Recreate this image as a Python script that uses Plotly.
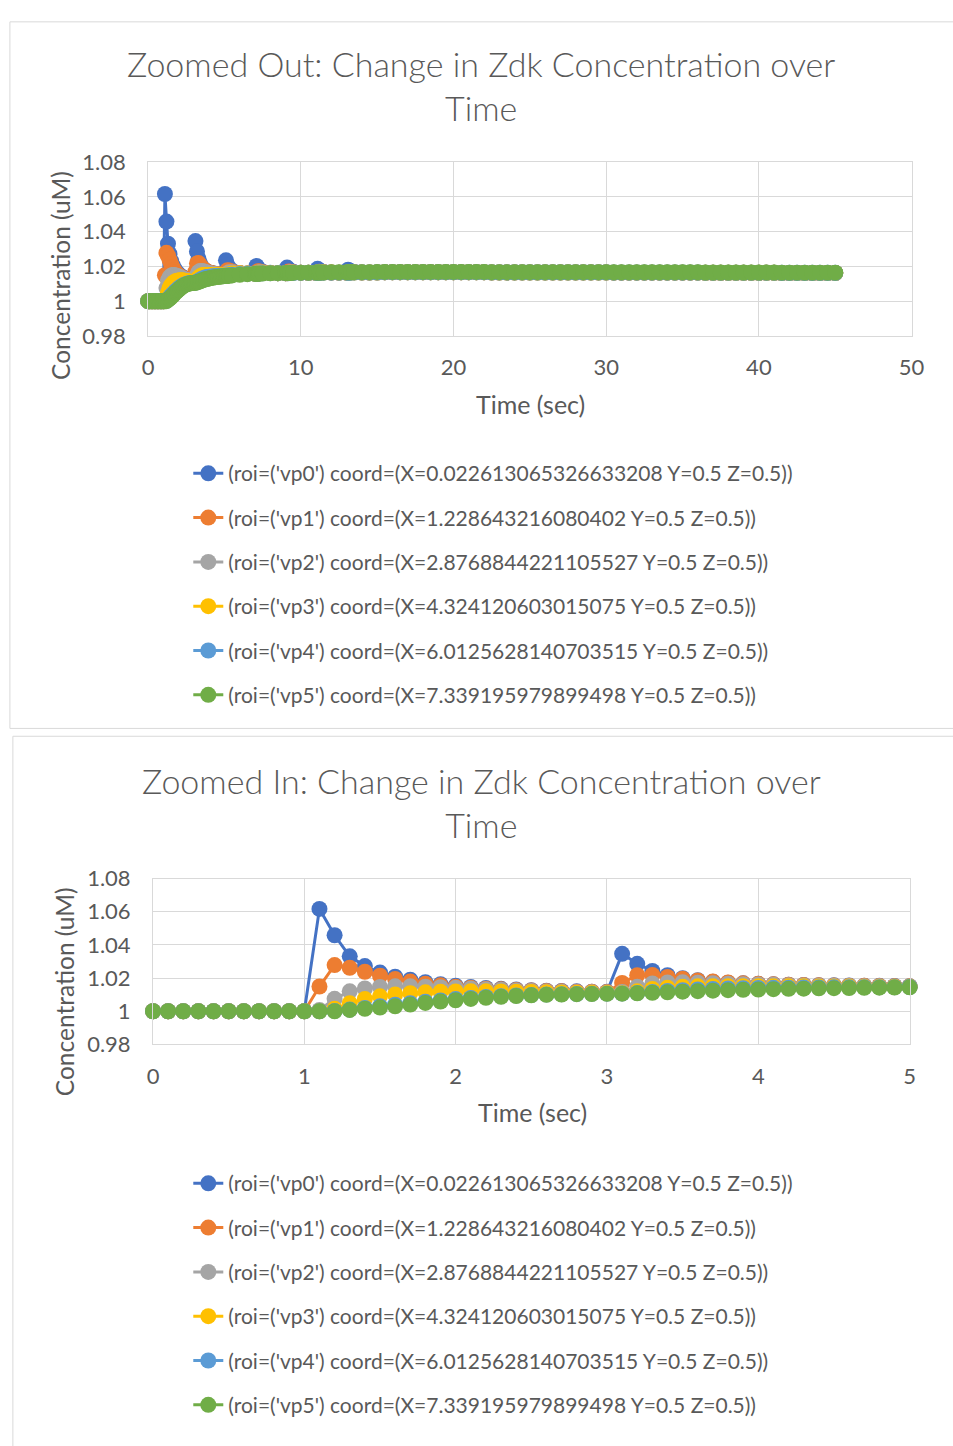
import plotly.graph_objects as go

# ---------------- data ----------------
series_names = [
    "(roi=('vp0') coord=(X=0.022613065326633208 Y=0.5 Z=0.5))",
    "(roi=('vp1') coord=(X=1.228643216080402 Y=0.5 Z=0.5))",
    "(roi=('vp2') coord=(X=2.8768844221105527 Y=0.5 Z=0.5))",
    "(roi=('vp3') coord=(X=4.324120603015075 Y=0.5 Z=0.5))",
    "(roi=('vp4') coord=(X=6.0125628140703515 Y=0.5 Z=0.5))",
    "(roi=('vp5') coord=(X=7.339195979899498 Y=0.5 Z=0.5))",
]
series_colors = ["#4472C4", "#ED7D31", "#A5A5A5", "#FFC000", "#5B9BD5", "#70AD47"]

# time 0 .. 5 s, every 0.1 s
t_fine = [0.0, 0.1, 0.2, 0.3, 0.4, 0.5, 0.6, 0.7, 0.8, 0.9,
          1.0, 1.1, 1.2, 1.3, 1.4, 1.5, 1.6, 1.7, 1.8, 1.9,
          2.0, 2.1, 2.2, 2.3, 2.4, 2.5, 2.6, 2.7, 2.8, 2.9,
          3.0, 3.1, 3.2, 3.3, 3.4, 3.5, 3.6, 3.7, 3.8, 3.9,
          4.0, 4.1, 4.2, 4.3, 4.4, 4.5, 4.6, 4.7, 4.8, 4.9, 5.0]

vp0_fine = [1.0, 1.0, 1.0, 1.0, 1.0, 1.0, 1.0, 1.0, 1.0, 1.0,
            1.0, 1.0617, 1.0458, 1.0331, 1.0272, 1.0233, 1.0208, 1.0190, 1.0175, 1.0163,
            1.0154, 1.0146, 1.0140, 1.0135, 1.0131, 1.0127, 1.0124, 1.0122, 1.0120, 1.0118,
            1.0117, 1.0346, 1.0286, 1.0243, 1.0217, 1.0199, 1.0187, 1.0178, 1.0172, 1.0168,
            1.0165, 1.0162, 1.0160, 1.0158, 1.0157, 1.0156, 1.0155, 1.0154, 1.0153, 1.0152, 1.0151]
vp1_fine = [1.0, 1.0, 1.0, 1.0, 1.0, 1.0, 1.0, 1.0, 1.0, 1.0,
            1.0, 1.0149, 1.0278, 1.0262, 1.0238, 1.0214, 1.0195, 1.0179, 1.0166, 1.0156,
            1.0148, 1.0142, 1.0136, 1.0132, 1.0128, 1.0125, 1.0122, 1.0120, 1.0118, 1.0117,
            1.0116, 1.0170, 1.0217, 1.0219, 1.0207, 1.0196, 1.0186, 1.0179, 1.0173, 1.0168,
            1.0165, 1.0162, 1.0160, 1.0158, 1.0156, 1.0155, 1.0154, 1.0153, 1.0152, 1.0151, 1.0150]
vp2_fine = [1.0, 1.0, 1.0, 1.0, 1.0, 1.0, 1.0, 1.0, 1.0, 1.0,
            1.0, 1.0008, 1.0075, 1.0120, 1.0137, 1.0146, 1.0150, 1.0150, 1.0148, 1.0145,
            1.0141, 1.0137, 1.0133, 1.0129, 1.0125, 1.0122, 1.0119, 1.0117, 1.0115, 1.0114,
            1.0113, 1.0116, 1.0148, 1.0167, 1.0173, 1.0174, 1.0172, 1.0169, 1.0166, 1.0163,
            1.0161, 1.0159, 1.0157, 1.0155, 1.0154, 1.0153, 1.0152, 1.0151, 1.0150, 1.0149, 1.0149]
vp3_fine = [1.0, 1.0, 1.0, 1.0, 1.0, 1.0, 1.0, 1.0, 1.0, 1.0,
            1.0, 1.0, 1.0015, 1.0048, 1.0074, 1.0090, 1.0101, 1.0109, 1.0114, 1.0117,
            1.0119, 1.0120, 1.0120, 1.0119, 1.0118, 1.0116, 1.0114, 1.0113, 1.0112, 1.0111,
            1.0110, 1.0110, 1.0120, 1.0134, 1.0142, 1.0147, 1.0150, 1.0151, 1.0151, 1.0151,
            1.0151, 1.0150, 1.0150, 1.0150, 1.0149, 1.0149, 1.0149, 1.0148, 1.0148, 1.0148, 1.0147]
vp4_fine = [1.0, 1.0, 1.0, 1.0, 1.0, 1.0, 1.0, 1.0, 1.0, 1.0,
            1.0, 1.0, 1.0002, 1.0010, 1.0020, 1.0030, 1.0039, 1.0048, 1.0057, 1.0065,
            1.0073, 1.0080, 1.0086, 1.0091, 1.0095, 1.0098, 1.0101, 1.0103, 1.0104, 1.0105,
            1.0106, 1.0107, 1.0110, 1.0116, 1.0122, 1.0127, 1.0131, 1.0134, 1.0137, 1.0139,
            1.0140, 1.0141, 1.0142, 1.0143, 1.0143, 1.0144, 1.0144, 1.0145, 1.0145, 1.0145, 1.0146]
vp5_fine = [1.0, 1.0, 1.0, 1.0, 1.0, 1.0, 1.0, 1.0, 1.0, 1.0,
            1.0, 1.0, 1.0, 1.0008, 1.0015, 1.0022, 1.0030, 1.0040, 1.0050, 1.0058,
            1.0066, 1.0074, 1.0081, 1.0087, 1.0092, 1.0096, 1.0099, 1.0101, 1.0103, 1.0104,
            1.0105, 1.0106, 1.0108, 1.0111, 1.0114, 1.0118, 1.0121, 1.0124, 1.0127, 1.0129,
            1.0131, 1.0133, 1.0135, 1.0136, 1.0138, 1.0139, 1.0140, 1.0141, 1.0142, 1.0143, 1.0144]

# time 5.1 .. 14.5 s (sampled around the pulses)
t_mid = [5.1, 5.2, 5.3, 5.5, 6.0, 6.5, 7.0, 7.1, 7.2, 7.3,
         7.5, 8.0, 8.5, 9.0, 9.1, 9.2, 9.3, 9.5, 10.0, 10.5,
         11.0, 11.1, 11.2, 11.3, 11.5, 12.0, 12.5, 13.0, 13.1, 13.2,
         13.3, 13.5, 14.0, 14.5]

vp0_mid = [1.0235, 1.0205, 1.0190, 1.0175, 1.0162, 1.0159, 1.0158, 1.0203, 1.0188, 1.0178,
           1.0169, 1.0163, 1.0161, 1.0161, 1.0193, 1.0182, 1.0175, 1.0169, 1.0164, 1.0163,
           1.0163, 1.0186, 1.0178, 1.0172, 1.0168, 1.0165, 1.0164, 1.0164, 1.0181, 1.0175,
           1.0171, 1.0168, 1.0166, 1.0165]
vp1_mid = [1.0160, 1.0178, 1.0177, 1.0170, 1.0162, 1.0159, 1.0158, 1.0163, 1.0172, 1.0171,
           1.0167, 1.0162, 1.0161, 1.0161, 1.0164, 1.0170, 1.0169, 1.0166, 1.0164, 1.0163,
           1.0163, 1.0165, 1.0169, 1.0168, 1.0166, 1.0165, 1.0164, 1.0164, 1.0165, 1.0168,
           1.0168, 1.0166, 1.0165, 1.0165]
vp2_mid = [1.0150, 1.0160, 1.0166, 1.0166, 1.0161, 1.0159, 1.0158, 1.0158, 1.0163, 1.0166,
           1.0165, 1.0162, 1.0161, 1.0161, 1.0161, 1.0164, 1.0166, 1.0165, 1.0164, 1.0163,
           1.0163, 1.0163, 1.0165, 1.0166, 1.0166, 1.0165, 1.0164, 1.0164, 1.0164, 1.0166,
           1.0166, 1.0166, 1.0165, 1.0165]
vp3_mid = [1.0147, 1.0150, 1.0155, 1.0159, 1.0160, 1.0159, 1.0158, 1.0158, 1.0159, 1.0161,
           1.0163, 1.0162, 1.0161, 1.0161, 1.0161, 1.0162, 1.0163, 1.0164, 1.0164, 1.0163,
           1.0163, 1.0163, 1.0164, 1.0164, 1.0165, 1.0165, 1.0164, 1.0164, 1.0164, 1.0165,
           1.0165, 1.0165, 1.0165, 1.0165]
vp4_mid = [1.0146, 1.0147, 1.0149, 1.0152, 1.0156, 1.0157, 1.0158, 1.0158, 1.0158, 1.0159,
           1.0160, 1.0161, 1.0161, 1.0161, 1.0161, 1.0161, 1.0162, 1.0162, 1.0163, 1.0163,
           1.0163, 1.0163, 1.0163, 1.0164, 1.0164, 1.0164, 1.0164, 1.0164, 1.0164, 1.0164,
           1.0165, 1.0165, 1.0165, 1.0165]
vp5_mid = [1.0144, 1.0145, 1.0146, 1.0148, 1.0152, 1.0155, 1.0157, 1.0157, 1.0157, 1.0158,
           1.0159, 1.0160, 1.0161, 1.0162, 1.0162, 1.0162, 1.0162, 1.0163, 1.0164, 1.0164,
           1.0165, 1.0165, 1.0165, 1.0165, 1.0165, 1.0166, 1.0166, 1.0166, 1.0166, 1.0166,
           1.0166, 1.0167, 1.0167, 1.0167]

# time 15 .. 45 s, every 0.5 s (plateau)
t_late = [15.0, 15.5, 16.0, 16.5, 17.0, 17.5, 18.0, 18.5, 19.0, 19.5,
          20.0, 20.5, 21.0, 21.5, 22.0, 22.5, 23.0, 23.5, 24.0, 24.5,
          25.0, 25.5, 26.0, 26.5, 27.0, 27.5, 28.0, 28.5, 29.0, 29.5,
          30.0, 30.5, 31.0, 31.5, 32.0, 32.5, 33.0, 33.5, 34.0, 34.5,
          35.0, 35.5, 36.0, 36.5, 37.0, 37.5, 38.0, 38.5, 39.0, 39.5,
          40.0, 40.5, 41.0, 41.5, 42.0, 42.5, 43.0, 43.5, 44.0, 44.5, 45.0]

vp0_late = [1.0166, 1.0166, 1.0167, 1.0167, 1.0167, 1.0167, 1.0167, 1.0167, 1.0167, 1.0167,
            1.0167, 1.0167, 1.0167, 1.0167, 1.0167, 1.0166, 1.0166, 1.0166, 1.0166, 1.0166,
            1.0166, 1.0166, 1.0166, 1.0166, 1.0166, 1.0166, 1.0166, 1.0166, 1.0166, 1.0166,
            1.0166, 1.0165, 1.0165, 1.0165, 1.0165, 1.0165, 1.0165, 1.0165, 1.0165, 1.0165,
            1.0165, 1.0165, 1.0165, 1.0164, 1.0164, 1.0164, 1.0164, 1.0164, 1.0164, 1.0164,
            1.0164, 1.0164, 1.0164, 1.0163, 1.0163, 1.0163, 1.0163, 1.0163, 1.0163, 1.0163, 1.0163]
vp1_late = [1.0165, 1.0166, 1.0166, 1.0166, 1.0166, 1.0166, 1.0166, 1.0166, 1.0166, 1.0166,
            1.0166, 1.0166, 1.0166, 1.0166, 1.0166, 1.0165, 1.0165, 1.0165, 1.0165, 1.0165,
            1.0165, 1.0165, 1.0165, 1.0165, 1.0165, 1.0165, 1.0165, 1.0165, 1.0165, 1.0165,
            1.0165, 1.0164, 1.0164, 1.0164, 1.0164, 1.0164, 1.0164, 1.0164, 1.0164, 1.0164,
            1.0164, 1.0164, 1.0164, 1.0163, 1.0163, 1.0163, 1.0163, 1.0163, 1.0163, 1.0163,
            1.0163, 1.0163, 1.0163, 1.0162, 1.0162, 1.0162, 1.0162, 1.0162, 1.0162, 1.0162, 1.0162]
vp2_late = [1.0165, 1.0166, 1.0166, 1.0166, 1.0166, 1.0166, 1.0166, 1.0166, 1.0166, 1.0166,
            1.0166, 1.0166, 1.0166, 1.0166, 1.0166, 1.0165, 1.0165, 1.0165, 1.0165, 1.0165,
            1.0165, 1.0165, 1.0165, 1.0165, 1.0165, 1.0165, 1.0165, 1.0165, 1.0165, 1.0165,
            1.0165, 1.0164, 1.0164, 1.0164, 1.0164, 1.0164, 1.0164, 1.0164, 1.0164, 1.0164,
            1.0164, 1.0164, 1.0164, 1.0163, 1.0163, 1.0163, 1.0163, 1.0163, 1.0163, 1.0163,
            1.0163, 1.0163, 1.0163, 1.0162, 1.0162, 1.0162, 1.0162, 1.0162, 1.0162, 1.0162, 1.0162]
vp3_late = [1.0165, 1.0166, 1.0166, 1.0166, 1.0166, 1.0166, 1.0166, 1.0166, 1.0166, 1.0166,
            1.0166, 1.0166, 1.0166, 1.0166, 1.0166, 1.0165, 1.0165, 1.0165, 1.0165, 1.0165,
            1.0165, 1.0165, 1.0165, 1.0165, 1.0165, 1.0165, 1.0165, 1.0165, 1.0165, 1.0165,
            1.0165, 1.0164, 1.0164, 1.0164, 1.0164, 1.0164, 1.0164, 1.0164, 1.0164, 1.0164,
            1.0164, 1.0164, 1.0164, 1.0163, 1.0163, 1.0163, 1.0163, 1.0163, 1.0163, 1.0163,
            1.0163, 1.0163, 1.0163, 1.0162, 1.0162, 1.0162, 1.0162, 1.0162, 1.0162, 1.0162, 1.0162]
vp4_late = [1.0165, 1.0166, 1.0166, 1.0166, 1.0166, 1.0166, 1.0166, 1.0166, 1.0166, 1.0166,
            1.0166, 1.0166, 1.0166, 1.0166, 1.0166, 1.0165, 1.0165, 1.0165, 1.0165, 1.0165,
            1.0165, 1.0165, 1.0165, 1.0165, 1.0165, 1.0165, 1.0165, 1.0165, 1.0165, 1.0165,
            1.0165, 1.0164, 1.0164, 1.0164, 1.0164, 1.0164, 1.0164, 1.0164, 1.0164, 1.0164,
            1.0164, 1.0164, 1.0164, 1.0163, 1.0163, 1.0163, 1.0163, 1.0163, 1.0163, 1.0163,
            1.0163, 1.0163, 1.0163, 1.0162, 1.0162, 1.0162, 1.0162, 1.0162, 1.0162, 1.0162, 1.0162]
vp5_late = [1.0168, 1.0168, 1.0168, 1.0168, 1.0168, 1.0168, 1.0168, 1.0168, 1.0168, 1.0168,
            1.0168, 1.0168, 1.0168, 1.0168, 1.0168, 1.0167, 1.0167, 1.0167, 1.0167, 1.0167,
            1.0167, 1.0167, 1.0167, 1.0167, 1.0167, 1.0167, 1.0167, 1.0167, 1.0167, 1.0167,
            1.0167, 1.0166, 1.0166, 1.0166, 1.0166, 1.0166, 1.0166, 1.0166, 1.0166, 1.0166,
            1.0166, 1.0166, 1.0166, 1.0165, 1.0165, 1.0165, 1.0165, 1.0165, 1.0165, 1.0165,
            1.0165, 1.0165, 1.0165, 1.0164, 1.0164, 1.0164, 1.0164, 1.0164, 1.0164, 1.0164, 1.0164]

fine_values = [vp0_fine, vp1_fine, vp2_fine, vp3_fine, vp4_fine, vp5_fine]
mid_values = [vp0_mid, vp1_mid, vp2_mid, vp3_mid, vp4_mid, vp5_mid]
late_values = [vp0_late, vp1_late, vp2_late, vp3_late, vp4_late, vp5_late]

y_tick_vals = [0.98, 1.0, 1.02, 1.04, 1.06, 1.08]
y_tick_text = ["0.98", "1", "1.02", "1.04", "1.06", "1.08"]
x1_tick_vals = [0, 10, 20, 30, 40, 50]
x2_tick_vals = [0, 1, 2, 3, 4, 5]

title_top = "Zoomed Out: Change in Zdk Concentration over<br>Time"
title_bottom = "Zoomed In: Change in Zdk Concentration over<br>Time"
x_title = "Time (sec)"
y_title = "Concentration (uM)"

# ---------------- figure ----------------
W, H = 953, 1446
FONT = "Lato"
TXT = "#595959"
GRID = "#D9D9D9"
MARKER = 16

fig = go.Figure()

t_all = t_fine + t_mid + t_late
for i in range(6):
    fig.add_trace(go.Scatter(
        x=t_all, y=fine_values[i] + mid_values[i] + late_values[i],
        mode="lines+markers", name=series_names[i],
        line=dict(color=series_colors[i], width=3),
        marker=dict(color=series_colors[i], size=MARKER, line=dict(width=0)),
        cliponaxis=False, xaxis="x", yaxis="y",
        legend="legend", legendgroup="a%d" % i,
    ))
for i in range(6):
    fig.add_trace(go.Scatter(
        x=t_fine, y=fine_values[i],
        mode="lines+markers", name=series_names[i],
        line=dict(color=series_colors[i], width=3),
        marker=dict(color=series_colors[i], size=MARKER, line=dict(width=0)),
        cliponaxis=False, xaxis="x2", yaxis="y2",
        legend="legend2", legendgroup="b%d" % i,
    ))

def px_x(p):
    return p / W

def px_y(p):
    return 1 - p / H

axis_common = dict(
    showgrid=True, gridcolor=GRID, gridwidth=1,
    showline=True, linecolor=GRID, linewidth=1, mirror=True,
    zeroline=False, ticks="",
    tickfont=dict(family=FONT, size=22, color=TXT),
)

legend_common = dict(
    xanchor="left", yanchor="top",
    font=dict(family=FONT, size=21, color=TXT),
    tracegroupgap=14, bgcolor="rgba(0,0,0,0)", itemclick=False,
)

fig.update_layout(
    width=W, height=H, autosize=False,
    margin=dict(l=0, r=0, t=0, b=0),
    paper_bgcolor="white", plot_bgcolor="white",
    showlegend=True,
    xaxis=dict(domain=[px_x(145), px_x(924)], range=[0, 50],
               tickvals=x1_tick_vals, anchor="y", ticklabelstandoff=12, **axis_common),
    yaxis=dict(domain=[px_y(328), px_y(151)], range=[0.98, 1.08],
               tickvals=y_tick_vals, ticktext=y_tick_text, anchor="x",
               ticklabelstandoff=17, **axis_common),
    xaxis2=dict(domain=[px_x(150), px_x(922)], range=[0, 5],
                tickvals=x2_tick_vals, anchor="y2", ticklabelstandoff=12, **axis_common),
    yaxis2=dict(domain=[px_y(1050), px_y(881)], range=[0.98, 1.08],
                tickvals=y_tick_vals, ticktext=y_tick_text, anchor="x2",
                ticklabelstandoff=17, **axis_common),
    legend=dict(x=px_x(186), y=px_y(447.5), **legend_common),
    legend2=dict(x=px_x(186), y=px_y(1171), **legend_common),
)

# chart frames
fig.add_shape(type="rect", xref="paper", yref="paper",
              x0=px_x(4), x1=px_x(970), y0=px_y(728), y1=px_y(8),
              line=dict(color=GRID, width=1), layer="below")
fig.add_shape(type="rect", xref="paper", yref="paper",
              x0=px_x(7), x1=px_x(970), y0=px_y(1470), y1=px_y(736),
              line=dict(color=GRID, width=1), layer="below")

def add_text(text, x, y, size, angle=0, weight=None):
    f = dict(family=FONT, size=size, color=TXT)
    if weight:
        f["weight"] = weight
    fig.add_annotation(text=text, x=px_x(x), y=px_y(y), xref="paper", yref="paper",
                       showarrow=False, xanchor="center", yanchor="middle",
                       textangle=angle, font=f)

add_text(title_top, 485, 73, 34, weight=300)
add_text(title_bottom, 485, 803, 34, weight=300)
add_text(x_title, 535, 397, 25)
add_text(x_title, 537, 1119, 25)
add_text(y_title, 55, 266, 24.5, angle=-90)
add_text(y_title, 60, 996, 24.5, angle=-90)

fig.write_html("out.html")
